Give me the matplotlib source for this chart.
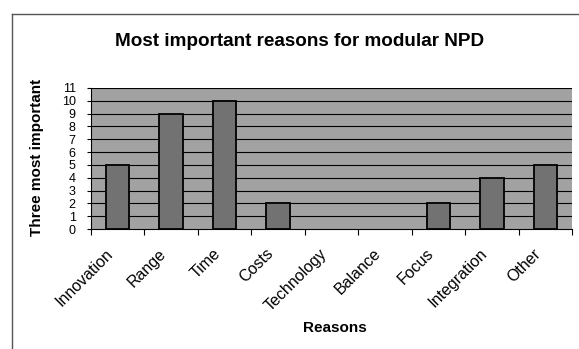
import matplotlib
matplotlib.use("Agg")
import matplotlib.pyplot as plt
from matplotlib.lines import Line2D
from matplotlib.transforms import ScaledTranslation

reasons = ["Innovation", "Range", "Time", "Costs", "Technology",
           "Balance", "Focus", "Integration", "Other"]
counts = [5, 9, 10, 2, 0, 0, 2, 4, 5]
y_ticks = list(range(0, 12))

plt.rcParams["font.family"] = ["Liberation Sans", "DejaVu Sans"]

fig = plt.figure(figsize=(5.79, 3.49), dpi=100)
fig.patch.set_facecolor("white")

# outer chart frame (left and top edges)
fig.add_artist(Line2D([12 / 579, 12 / 579], [0, 1 - 14 / 349],
                      color="#555555", lw=1.0))
fig.add_artist(Line2D([12 / 579, 1], [1 - 14 / 349, 1 - 14 / 349],
                      color="#555555", lw=1.0))

ax = fig.add_axes([91 / 579, 1 - 229 / 349, 481 / 579, 141 / 349])
ax.set_facecolor("#a2a2a2")

x = list(range(len(reasons)))
bars = ax.bar(x, counts, width=0.44, color="#727272", edgecolor="black",
              linewidth=1.3, zorder=3)
# empty categories get no outline
for b, c in zip(bars, counts):
    if c == 0:
        b.set_linewidth(0)

ax.set_xlim(-0.5, len(reasons) - 0.5)
ax.set_ylim(0, 11)
ax.set_yticks(y_ticks)
ax.set_yticklabels([str(v) for v in y_ticks], fontsize=9)
ax.tick_params(axis="y", length=3, pad=8, width=0.8)
for v in y_ticks[1:]:
    ax.axhline(v, color="black", lw=0.8, zorder=1)

# category ticks sit between the bars
ax.set_xticks([i - 0.5 for i in range(len(reasons) + 1)], minor=False)
ax.set_xticklabels([])
ax.tick_params(axis="x", which="major", length=4, width=0.8, direction="out")
ax.set_xticks(x, minor=True)
ax.set_xticklabels(reasons, minor=True, rotation=45, ha="right",
                   va="center", rotation_mode="anchor", fontsize=11.5)
ax.tick_params(axis="x", which="minor", length=0, pad=16)
shift = ScaledTranslation(-7 / 100, 0, fig.dpi_scale_trans)
for lbl in ax.get_xticklabels(minor=True):
    lbl.set_transform(lbl.get_transform() + shift)

for side in ["top", "right"]:
    ax.spines[side].set_visible(False)
ax.spines["left"].set_linewidth(0.8)
ax.spines["bottom"].set_linewidth(0.8)

fig.text(300 / 579, 1 - 41 / 349, "Most important reasons for modular NPD",
         ha="center", va="center", fontsize=13.6, fontweight="bold")
fig.text(37 / 579, 1 - 157 / 349, "Three most important", rotation=90,
         ha="center", va="center", fontsize=11, fontweight="bold")
fig.text(335 / 579, 1 - 328 / 349, "Reasons", ha="center", va="center",
         fontsize=11, fontweight="bold")

fig.savefig("out.png", dpi=100)
